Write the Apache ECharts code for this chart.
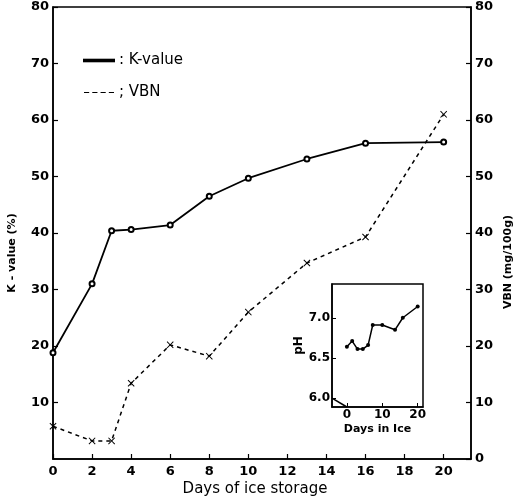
<!DOCTYPE html>
<html>
<head>
<meta charset="utf-8">
<script src="https://cdn.jsdelivr.net/npm/echarts@6/dist/echarts.min.js"></script>
<style>
  html, body { margin: 0; padding: 0; background: #fff; }
  #chart { width: 518px; height: 502px; }
</style>
</head>
<body>
<div id="chart"></div>
<script>
  // main panel: days of ice storage
  var kDays = [0, 2, 3, 4, 6, 8, 10, 13, 16, 20];
  var kValue = [18.8, 31.0, 40.4, 40.6, 41.4, 46.5, 49.7, 53.1, 55.9, 56.1];
  var vbnDays = [0, 2, 3, 4, 6, 8, 10, 13, 16, 20];
  var vbnValue = [5.8, 3.2, 3.2, 13.4, 20.2, 18.2, 26.0, 34.7, 39.3, 61.0];
  var dayTicks = [0, 2, 4, 6, 8, 10, 12, 14, 16, 18, 20];

  // inset: pH
  var phDays = [0, 1.5, 3, 4.5, 6, 7.3, 10, 13.6, 15.8, 20];
  var phValue = [6.64, 6.71, 6.61, 6.61, 6.66, 6.91, 6.91, 6.85, 7.0, 7.14];
  var phTicks = [6.0, 6.5, 7.0];
  var insetDayTicks = [0, 10, 20];
  var insetBreak = [[-4.2, 6.0], [0, 5.89]];

  function pairs(xs, ys) {
    return xs.map(function (x, i) { return [x, ys[i]]; });
  }

  var font = 'DejaVu Sans';
  var crossIcon = 'path://M0,1L1,0L5,4L9,0L10,1L6,5L10,9L9,10L5,6L1,10L0,9L4,5Z';
  var labelStyle = { color: '#000', fontFamily: font, fontWeight: 'bold', fontSize: 13 };

  var myChart = echarts.init(document.getElementById('chart'));
  var option = {
    backgroundColor: '#fff',
    animation: false,
    textStyle: { fontFamily: font, color: '#000' },
    legend: {
      orient: 'vertical',
      left: 78,
      top: 48,
      itemWidth: 30,
      itemHeight: 1.6,
      itemGap: 17,
      textStyle: { color: '#000', fontFamily: font, fontSize: 15 },
      formatter: function (name) {
        return (name === 'VBN' ? '; ' : ': ') + name;
      },
      data: [
        { name: 'K-value', icon: 'rect' },
        { name: 'VBN', icon: 'path://M0,0h5v1h-5zM8,0h5v1h-5zM16,0h5v1h-5zM24,0h5v1h-5z' }
      ]
    },
    grid: [
      { left: 53, top: 7, right: 47, bottom: 43, show: true, borderColor: '#000', borderWidth: 1.5 },
      { left: 332, top: 284, width: 91, height: 123, show: true, borderColor: '#000', borderWidth: 1.5, backgroundColor: '#fff' }
    ],
    xAxis: [{
      type: 'value',
      gridIndex: 0,
      min: 0,
      max: 21.4,
      axisLine: { onZero: false, lineStyle: { color: '#000', width: 1.5 } },
      axisTick: { inside: true, length: 5, customValues: dayTicks, lineStyle: { color: '#000', width: 1.2 } },
      axisLabel: Object.assign({ customValues: dayTicks, margin: 6 }, labelStyle),
      splitLine: { show: false }
    }, {
      type: 'value',
      gridIndex: 1,
      min: -4.2,
      max: 21.5,
      name: 'Days in Ice',
      nameLocation: 'middle',
      nameGap: 17,
      nameTextStyle: { color: '#000', fontFamily: font, fontWeight: 'bold', fontSize: 11 },
      axisLine: { onZero: false, lineStyle: { color: '#000', width: 1.5 } },
      axisTick: { inside: true, length: 4, customValues: insetDayTicks, lineStyle: { color: '#000' } },
      axisLabel: Object.assign({ customValues: insetDayTicks, margin: 2 }, labelStyle, { fontSize: 12 }),
      splitLine: { show: false }
    }],
    yAxis: [{
      type: 'value',
      gridIndex: 0,
      min: 0,
      max: 80,
      interval: 10,
      axisLine: { show: true, onZero: false, lineStyle: { color: '#000', width: 1.5 } },
      axisTick: { show: true, inside: true, length: 5, lineStyle: { color: '#000', width: 1.2 } },
      axisLabel: Object.assign({ showMinLabel: false, margin: 4 }, labelStyle),
      splitLine: { show: false }
    }, {
      type: 'value',
      gridIndex: 0,
      position: 'right',
      min: 0,
      max: 80,
      interval: 10,
      axisLine: { show: true, onZero: false, lineStyle: { color: '#000', width: 1.5 } },
      axisTick: { show: true, inside: true, length: 5, lineStyle: { color: '#000', width: 1.2 } },
      axisLabel: Object.assign({ margin: 4 }, labelStyle),
      splitLine: { show: false }
    }, {
      type: 'value',
      gridIndex: 1,
      min: 5.89,
      max: 7.42,
      name: 'pH',
      nameLocation: 'middle',
      nameRotate: 90,
      nameGap: 26,
      nameTextStyle: { color: '#000', fontFamily: font, fontWeight: 'bold', fontSize: 12 },
      axisLine: { show: true, onZero: false, lineStyle: { color: '#000', width: 1.5 } },
      axisTick: { show: true, inside: true, length: 4, customValues: phTicks, lineStyle: { color: '#000' } },
      axisLabel: Object.assign({
        customValues: phTicks,
        margin: 2,
        formatter: function (v) { return v.toFixed(1); }
      }, labelStyle, { fontSize: 12 }),
      splitLine: { show: false }
    }],
    graphic: [
      {
        type: 'text', x: 12, y: 253, rotation: Math.PI / 2,
        style: { text: 'K - value (%)', fill: '#000', font: 'bold 11px "DejaVu Sans"', align: 'center', verticalAlign: 'middle' }
      },
      {
        type: 'text', x: 508, y: 262, rotation: Math.PI / 2,
        style: { text: 'VBN (mg/100g)', fill: '#000', font: 'bold 11px "DejaVu Sans"', align: 'center', verticalAlign: 'middle' }
      },
      {
        type: 'text', x: 255, y: 489,
        style: { text: 'Days of ice storage', fill: '#000', font: '15px "DejaVu Sans"', align: 'center', verticalAlign: 'middle' }
      }
    ],
    series: [{
      name: 'K-value',
      type: 'line',
      xAxisIndex: 0,
      yAxisIndex: 0,
      data: pairs(kDays, kValue),
      symbol: 'emptyCircle',
      symbolSize: 5,
      itemStyle: { color: '#000', borderColor: '#000', borderWidth: 1.2 },
      lineStyle: { color: '#000', width: 1.8 }
    }, {
      name: 'VBN',
      type: 'line',
      xAxisIndex: 0,
      yAxisIndex: 1,
      data: pairs(vbnDays, vbnValue),
      symbol: crossIcon,
      symbolSize: 7,
      itemStyle: { color: '#000' },
      lineStyle: { color: '#000', width: 1.5, type: [4, 4] }
    }, {
      name: 'pH',
      type: 'line',
      xAxisIndex: 1,
      yAxisIndex: 2,
      data: pairs(phDays, phValue),
      symbol: 'circle',
      symbolSize: 4,
      itemStyle: { color: '#000' },
      lineStyle: { color: '#000', width: 1.5 }
    }, {
      name: 'break',
      type: 'line',
      xAxisIndex: 1,
      yAxisIndex: 2,
      data: insetBreak,
      symbol: 'none',
      lineStyle: { color: '#000', width: 1.5 }
    }]
  };
  myChart.setOption(option);
</script>
</body>
</html>
